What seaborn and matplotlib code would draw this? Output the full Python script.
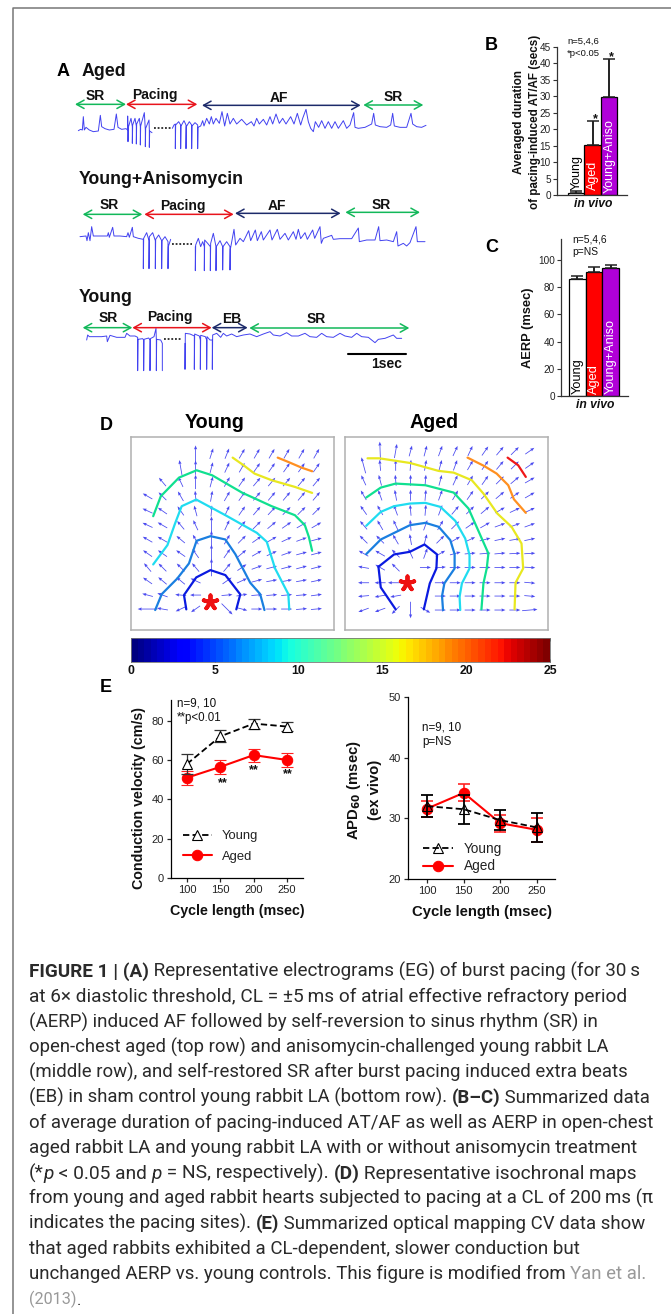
import numpy as np
import pandas as pd
import matplotlib
matplotlib.use("Agg")
import matplotlib.pyplot as plt
import seaborn as sns
from matplotlib.font_manager import FontProperties

# ---------- data ----------
bar_groups = ["Young", "Aged", "Young+Aniso"]
bar_colors = ["#ffffff", "#ff0000", "#b000d8"]
dur_mean = [0.6, 15.2, 29.8]
dur_err = [0.6, 7.2, 11.4]
aerp_mean = [86, 91, 94]
aerp_err = [2, 4, 2.5]

cycle = [100, 150, 200, 250]
cv_young = [58, 72, 78.5, 77]
cv_young_err = [5, 3, 2.5, 2.5]
cv_aged = [51, 56.5, 62.5, 60]
cv_aged_err = [3.5, 3.5, 3.3, 3.4]
apd_young = [32, 31.5, 29.7, 28.5]
apd_young_err = [1.8, 2.4, 1.6, 2.4]
apd_aged = [31.6, 34.2, 29.2, 28.1]
apd_aged_err = [1.3, 1.4, 1.4, 2.0]

colorbar_ticks = [0, 5, 10, 15, 20, 25]

# electrogram traces (panel A units)
aged_a = [(85,242),(92,238),(97,240),(100,200),(103,240),(108,232),(118,240),(130,245),(145,243),(151,196),(155,230),(165,236),(178,240),(192,238),(199,192),(204,232),(215,238),(228,236),(233,240),(233,198),(234,275),(235,232),(243,205),(247,230),(247,280),(248,225),(255,205),(259,228),(259,282),(260,222),(268,205),(271,230),(271,285),(272,228),(283,188),(286,240),(286,290),(287,235),(297,210),(298,240),(298,292),(299,243),(306,248)]
aged_b = [(367,235),(372,225),(376,222),(376,296),(377,225),(386,215),(392,225),(392,296),(393,228),(402,212),(408,225),(408,296),(409,230),(418,215),(425,225),(425,296),(426,228),(435,218),(443,225),(443,296),(444,232),(452,228),(458,212),(462,228),(470,205),(478,222),(484,200),(490,222),(498,205),(508,220),(516,185),(524,228),(532,190),(540,222),(550,205),(560,222),(575,208),(590,225),(604,215),(612,228),(620,205),(628,222),(640,208),(650,225),(660,200),(668,222),(678,192),(688,220),(698,205),(708,222),(722,200),(732,222),(742,190),(752,225),(758,205),(768,178),(775,215),(782,235),(790,245),(796,215),(806,232),(815,212),(825,235),(835,215),(845,235),(855,215),(865,235),(880,212),(890,235),(900,225),(911,188),(915,232),(925,235),(945,232),(965,222),(971,190),(976,225),(990,230),(1010,232),(1022,225),(1028,190),(1033,228),(1050,232),(1070,232),(1083,190),(1088,222),(1100,230),(1115,232),(1128,226)]
aniso_a = [(90,560),(108,558),(111,572),(115,548),(120,572),(125,530),(130,558),(150,558),(172,558),(175,548),(178,562),(188,532),(192,558),(210,558),(230,560),(234,548),(238,562),(247,532),(250,560),(265,565),(280,568),(280,656),(281,565),(290,548),(297,572),(297,656),(298,560),(308,548),(316,572),(316,656),(317,568),(326,555),(335,572),(335,656),(336,572),(345,560),(354,575),(354,656),(355,590),(362,568)]
aniso_b = [(436,590),(436,662),(437,585),(445,565),(452,590),(458,575),(463,590),(463,662),(464,570),(473,580),(481,590),(481,662),(482,580),(490,550),(498,590),(498,662),(499,590),(510,572),(518,590),(518,660),(519,590),(530,575),(540,590),(540,660),(541,598),(552,538),(557,585),(570,565),(580,575),(596,542),(602,572),(616,540),(622,572),(634,545),(640,570),(660,540),(666,570),(682,538),(690,568),(705,550),(715,570),(730,545),(738,568),(745,538),(752,566),(765,548),(772,568),(788,540),(794,565),(810,530),(814,580),(820,565),(845,556),(850,568),(870,566),(905,566),(925,534),(928,575),(950,570),(975,570),(986,530),(990,572),(1010,570),(1030,575),(1040,545),(1044,588),(1060,580),(1070,588),(1080,578),(1098,530),(1102,575),(1125,575)]
young_a = [(110,870),(113,855),(118,860),(135,860),(155,860),(170,858),(172,875),(180,856),(200,862),(225,862),(230,850),(240,858),(255,858),(263,862),(263,962),(264,868),(278,866),(281,870),(281,962),(282,868),(296,864),(300,870),(300,962),(301,866),(312,860),(318,835),(319,870),(319,962),(320,868),(332,870),(337,880),(337,962)]
young_b = [(405,880),(405,958),(406,850),(420,852),(433,858),(433,958),(434,852),(448,858),(451,870),(451,958),(452,856),(466,860),(470,870),(470,958),(471,860),(480,870),(487,870),(487,958),(488,855),(500,850),(512,862),(520,850),(530,858),(545,852),(560,860),(580,855),(600,852),(620,860),(640,852),(660,845),(670,855),(690,858),(710,848),(725,858),(745,858),(765,850),(780,860),(800,862),(815,850),(830,860),(850,862),(870,850),(885,858),(905,862),(920,850),(935,860),(955,862),(975,878),(985,868),(1005,865),(1030,855),(1040,865),(1055,865)]
traces = [aged_a, aged_b, aniso_a, aniso_b, young_a, young_b]
gaps = [(313, 365, 233), (365, 425, 583), (343, 395, 868)]

GREEN, RED, NAVY = "#12b85a", "#e8141c", "#1c2a6a"
phases = [("SR",75,228,163,135,137,GREEN),("Pacing",228,442,163,314,135,RED),("AF",456,932,166,688,145,NAVY),("SR",940,1120,165,1030,142,GREEN),
          ("SR",98,277,493,178,465,GREEN),("Pacing",283,551,493,400,467,RED),("AF",555,872,490,682,468,NAVY),("SR",886,1110,487,995,466,GREEN),
          ("SR",98,247,833,175,803,GREEN),("Pacing",247,485,833,360,802,RED),("EB",485,593,833,546,808,NAVY),("SR",598,1078,834,800,806,GREEN)]

# isochrones (map units)
young_iso = [
 ("#0a1ae0",[(182,538),(175,495),(212,442),(255,420),(300,435),(345,493),(333,538)]),
 ("#1a7fe0",[(88,540),(108,492),(155,445),(190,400),(213,332),(255,318),(300,328),(330,372),(375,458),(405,492),(418,540)]),
 ("#20dcf0",[(82,403),(125,345),(148,280),(168,228),(212,208),(300,255),(395,308),(425,335),(450,415),(490,492),(493,538)]),
 ("#10e090",[(82,258),(105,198),(160,142),(213,120),(260,135),(350,187),(440,228),(510,255),(540,285),(552,320),(562,362)]),
 ("#e8e820",[(322,82),(355,105),(388,130),(440,150),(510,170),(562,188)]),
 ("#ff9020",[(458,82),(490,95),(530,112),(562,123)]),
]
aged_iso = [
 ("#0a1ae0",[(165,538),(120,472),(113,410),(160,373),(208,365),(252,343),(290,373),(288,415),(268,460),(250,538)]),
 ("#1a7fe0",[(76,372),(120,328),(208,285),(255,278),(295,290),(330,330),(343,372),(343,415),(312,460),(305,498),(308,540)]),
 ("#20dcf0",[(76,287),(120,245),(160,228),(208,220),(255,218),(300,230),(345,272),(375,325),(388,375),(388,415),(365,460),(358,500),(360,540)]),
 ("#10e090",[(76,202),(120,172),(165,160),(255,165),(340,187),(385,235),(425,325),(445,370),(440,415),(430,460),(424,538)]),
 ("#e8e820",[(80,84),(115,84),(208,98),(295,122),(340,127),(395,150),(430,190),(472,250),(515,290),(545,340),(550,415),(527,458),(524,538)]),
 ("#ff9020",[(382,82),(432,107),(470,130),(505,165),(522,207),(558,248)]),
 ("#f01818",[(503,82),(535,105),(558,140)]),
]
# arrow directions in degrees (blank = no arrow)
N = np.nan
young_cols = [65,110,165,210,258,305,350,395,440,485,530,575]
young_rows = [70,112,155,198,242,285,328,370,412,452,495,537]
young_ang = [
 [N,N,N,90,72,68,60,60,60,60,60,60],
 [N,N,100,90,75,65,60,55,55,55,55,55],
 [N,130,115,90,75,60,55,50,50,50,50,50],
 [150,135,120,95,80,60,55,50,50,50,50,50],
 [155,145,125,105,85,65,55,50,47,45,45,45],
 [155,150,130,115,90,65,50,45,40,35,30,30],
 [150,150,140,120,90,60,45,35,30,25,20,15],
 [145,145,145,125,90,55,40,30,25,20,15,15],
 [130,135,135,130,90,50,35,20,15,15,15,15],
 [145,140,140,155,N,35,25,15,10,10,10,12],
 [165,160,175,180,N,5,10,5,5,5,5,8],
 [180,170,205,215,N,315,345,0,0,0,5,5],
]
young_long = {(0,3):1.5,(1,2):1.4,(1,3):1.3,(2,3):1.3,(5,4):1.6,(6,4):1.6,(7,4):1.6,(8,4):1.6,(11,0):1.8,(11,5):1.4}
aged_cols = [68,118,165,210,255,300,345,390,435,480,525,570]
aged_rows = [62,105,150,195,240,285,328,370,412,458,498,540]
aged_ang = [
 [N,92,80,75,75,70,65,65,55,50,45,35],
 [105,95,90,85,80,75,70,60,55,50,45,35],
 [115,105,95,90,85,75,65,60,55,45,40,30],
 [120,110,100,90,85,70,60,55,45,40,35,30],
 [125,120,110,95,85,70,50,45,40,30,25,25],
 [130,120,115,95,70,60,45,35,30,20,20,20],
 [135,135,120,100,75,45,30,25,15,12,10,12],
 [150,150,135,115,70,30,15,5,5,5,3,3],
 [170,150,135,N,0,5,0,0,0,0,0,357],
 [180,180,180,N,N,0,0,0,0,0,0,355],
 [185,190,190,N,N,0,0,0,0,0,0,355],
 [200,200,225,270,330,0,0,0,0,0,0,5],
]
aged_long = {(0,1):1.7,(0,2):1.3,(1,0):1.5,(9,2):1.4,(11,3):1.5,(11,11):1.4}

caption_lines = [
 (639,[("FIGURE 1 | (A)","b"),(" Representative electrograms (EG) of burst pacing (for 30\u2009s","r")]),
 (627,[("at 6\u00d7 diastolic threshold, CL = \u00b15\u2009ms of atrial effective refractory period","r")]),
 (596,[("(AERP) induced AF followed by self-reversion to sinus rhythm (SR) in","r")]),
 (608,[("open-chest aged (top row) and anisomycin-challenged young rabbit LA","r")]),
 (628,[("(middle row), and self-restored SR after burst pacing induced extra beats","r")]),
 (650,[("(EB) in sham control young rabbit LA (bottom row). ","r"),("(B\u2013C)","b"),(" Summarized data","r")]),
 (650,[("of average duration of pacing-induced AT/AF as well as AERP in open-chest","r")]),
 (637,[("aged rabbit LA and young rabbit LA with or without anisomycin treatment","r")]),
 (635,[("(*","r"),("p","i"),(" < 0.05 and ","r"),("p","i"),(" = NS, respectively). ","r"),("(D)","b"),(" Representative isochronal maps","r")]),
 (653,[("from young and aged rabbit hearts subjected to pacing at a CL of 200\u2009ms (\u03c0","r")]),
 (643,[("indicates the pacing sites). ","r"),("(E)","b"),(" Summarized optical mapping CV data show","r")]),
 (576,[("that aged rabbits exhibited a CL-dependent, slower conduction but","r")]),
 (646,[("unchanged AERP vs. young controls. This figure is modified from ","r"),("Yan et al.","g")]),
 (81,[("(2013)","g"),(".","r")]),
]

# ---------- figure ----------
sns.set_theme(style="ticks")
plt.rcParams["font.family"] = ["Liberation Sans", "DejaVu Sans"]
W, H = 671, 1314
fig = plt.figure(figsize=(W/100, H/100), dpi=100, facecolor="white")

def px_ax(l, t, r, b, **kw):
    return fig.add_axes([l/W, 1-b/H, (r-l)/W, (b-t)/H], **kw)

page = px_ax(0, 0, W, H)
page.set_xlim(0, W); page.set_ylim(H, 0); page.axis("off"); page.set_zorder(10)
def T(x, y, s, size=7.2, weight="normal", ha="left", va="center", color="#111111", **kw):
    return page.text(x, y, s, fontsize=size, fontweight=weight, ha=ha, va=va, color=color, **kw)

page.plot([13, 13, W], [H, 8, 8], color="#777777", lw=1.1)

for lab, x, y in [("A",57,71),("B",485,45),("C",485,248),("D",100,426),("E",100,688)]:
    T(x, y, lab, size=13, weight="bold", color="black")

# --- panel A
axA = px_ax(50, 50, 450, 390)
axA.set_xlim(0, 1200); axA.set_ylim(1020, 0); axA.axis("off"); axA.patch.set_alpha(0)
for tr in traces:
    xs, ys = zip(*tr)
    sns.lineplot(x=list(xs), y=list(ys), ax=axA, color="#4242f0", lw=0.7, sort=False, estimator=None)
for x0, x1, y in gaps:
    axA.plot([x0, x1], [y, y], color="black", lw=1.1, ls=(0, (1.2, 1.2)))
for name, x0, x1, y, tx, ty, c in phases:
    axA.annotate("", xy=(x1, y), xytext=(x0, y),
                 arrowprops=dict(arrowstyle="<->,head_length=0.45,head_width=0.25", color=c, lw=1.1, shrinkA=0, shrinkB=0))
    axA.text(tx, ty, name, fontsize=10, fontweight="bold", ha="center", va="center", color="#111111")
axA.plot([893, 1067], [913, 913], color="black", lw=1.5)
axA.text(1011, 943, "1sec", fontsize=10, fontweight="bold", ha="center", va="center", color="#111111")
T(82, 72, "Aged", size=12.8, weight="bold")
T(79, 180, "Young+Anisomycin", size=12.8, weight="bold")
T(79, 298, "Young", size=12.8, weight="bold")

# --- panels B, C
def bars(ax, means, errs, xlim, ylim, yticks):
    df = pd.DataFrame({"group": bar_groups, "value": means})
    sns.barplot(data=df, x="group", y="value", hue="group", palette=bar_colors, width=1.0,
                edgecolor="black", linewidth=0.9, legend=False, ax=ax, saturation=1, dodge=False)
    ax.errorbar(range(3), means, yerr=[[0, 0, 0], errs], fmt="none", ecolor="#222222", elinewidth=1.4, capsize=4, capthick=1.1)
    ax.set_xlim(*xlim); ax.set_ylim(*ylim); ax.set_yticks(yticks)
    ax.set_xticks([]); ax.set_xlabel(""); ax.set_ylabel("")
    ax.tick_params(axis="y", labelsize=7.2, length=3, width=0.8, pad=1.5, labelcolor="#222222", color="#333333")
    sns.despine(ax=ax)
    for s in ("left", "bottom"):
        ax.spines[s].set_linewidth(0.9); ax.spines[s].set_color("#333333")
    ax.patch.set_alpha(0)

axB = px_ax(557, 47, 627, 195)
bars(axB, dur_mean, dur_err, (-1.17, 3.1), (0, 45), range(0, 50, 5))
axC = px_ax(561, 239, 628, 396)
bars(axC, aerp_mean, aerp_err, (-0.98, 3.04), (0, 115.4), range(0, 120, 20))

for x, lab, c, yb in [(576.5,"Young","black",190),(593,"Aged","white",190),(609.5,"Young+Aniso","white",193)]:
    T(x, yb, lab, size=9, ha="center", va="bottom", rotation=90, color=c)
for x, lab, c in [(577.5,"Young","black"),(594,"Aged","white"),(610.5,"Young+Aniso","white")]:
    T(x, 394, lab, size=9.2, ha="center", va="bottom", rotation=90, color=c)
T(519, 122, "Averaged duration", size=8.5, weight="bold", ha="center", rotation=90)
T(535, 122, "of pacing-induced AT/AF (secs)", size=8.4, weight="bold", ha="center", rotation=90)
T(528, 328, "AERP (msec)", size=9.3, weight="bold", ha="center", rotation=90)
T(593, 204, "in vivo", size=8.7, weight="bold", ha="center", style="italic")
T(595, 405, "in vivo", size=8.7, weight="bold", ha="center", style="italic")
T(567, 41, "n=5,4,6", size=6.8); T(567, 53, "*p<0.05", size=6.8)
T(572, 239, "n=5,4,6", size=7.4); T(572, 252, "p=NS", size=7.4)
T(595, 119, "*", size=9, weight="bold", ha="center"); T(611, 57, "*", size=9, weight="bold", ha="center")

# --- panel D
def iso_map(box, iso, cols, rows, ang, longer, star, xlim):
    ax = px_ax(*box)
    ax.set_xlim(*xlim); ax.set_ylim(600, 20)
    ax.set_xticks([]); ax.set_yticks([])
    for s in ax.spines.values():
        s.set_color("#b0b0b0"); s.set_linewidth(1.1)
    A = np.radians(np.array(ang, dtype=float))
    M = np.full(A.shape, 11.0)
    for (r, c), k in longer.items():
        M[r, c] *= k
    X, Y = np.meshgrid(cols, rows)
    ok = ~np.isnan(A)
    ax.quiver(X[ok], Y[ok], (M*np.cos(A))[ok], (M*np.sin(A))[ok], angles="uv", scale_units="dots", scale=1,
              units="dots", width=0.8, headwidth=4, headlength=5, headaxislength=4.5, pivot="mid", color="#4a4af0", zorder=2)
    for c, pts in iso:
        xs, ys = zip(*pts)
        sns.lineplot(x=list(xs), y=list(ys), ax=ax, color=c, lw=1.6, sort=False, estimator=None, zorder=3)
    ax.scatter(*star, marker=(5, 2, 0), s=105, color="#ee1111", linewidths=2.8, zorder=4)
    ax.set_xlabel(""); ax.set_ylabel("")
    return ax

iso_map((131, 437, 334, 630), young_iso, young_cols, young_rows, young_ang, young_long, (253, 516), (15, 628))
iso_map((345, 437, 548, 630), aged_iso, aged_cols, aged_rows, aged_ang, aged_long, (200, 458), (12, 625))
T(215, 423, "Young", size=14.2, weight="bold", ha="center", color="black")
T(434, 423, "Aged", size=14.2, weight="bold", ha="center", color="black")

axBar = px_ax(131, 638, 550, 662)
levels = np.linspace(0, 25, 64).reshape(1, -1)
sns.heatmap(levels, cmap="jet", vmin=0, vmax=25, cbar=False, ax=axBar, xticklabels=False, yticklabels=False)
axBar.set_xticks([v/25*64 for v in colorbar_ticks])
axBar.set_xticklabels(colorbar_ticks, fontsize=8.8, fontweight="bold", color="#111111")
axBar.set_yticks([])
axBar.tick_params(axis="x", length=2, width=0.7, direction="in", pad=2, top=True, bottom=True, color="#111111")
for s in axBar.spines.values():
    s.set_visible(True); s.set_color("#777777"); s.set_linewidth(0.6)

# --- panel E
def line_panel(ax, young, yerr, aged, aerr, xlim, ylim, yticks, lw_err, young_on_top):
    df = pd.DataFrame({"cl": cycle * 2, "v": young + aged, "g": ["Young"]*4 + ["Aged"]*4})
    ya = dict(x=cycle, y=young, yerr=yerr, fmt="none", ecolor="black" if young_on_top else "#333333", elinewidth=lw_err, capsize=4.5, capthick=lw_err)
    ra = dict(x=cycle, y=aged, yerr=aerr, fmt="none", ecolor="#ff2020", elinewidth=lw_err*0.9, capsize=4.5, capthick=lw_err*0.9)
    ax.errorbar(**ra, zorder=2)
    sns.lineplot(data=df[df.g == "Aged"], x="cl", y="v", ax=ax, color="#ff0000", lw=1.5, marker="o", ms=7.5, mec="#ff0000", label="Aged", zorder=3, errorbar=None)
    ax.errorbar(**ya, zorder=4)
    sns.lineplot(data=df[df.g == "Young"], x="cl", y="v", ax=ax, color="black", lw=1.3, ls=(0, (3.5, 1.8)), marker="^", ms=7.5,
                 mfc="white" if not young_on_top else "none", mec="black", mew=0.8, label="Young", zorder=5, errorbar=None)
    ax.set_xlim(*xlim); ax.set_ylim(*ylim)
    ax.set_xticks(cycle); ax.set_yticks(yticks)
    ax.set_xlabel(""); ax.set_ylabel("")
    ax.tick_params(labelsize=8, length=3, width=0.9, pad=2, labelcolor="#222222")
    sns.despine(ax=ax)
    for s in ("left", "bottom"):
        ax.spines[s].set_linewidth(0.9); ax.spines[s].set_color("black")
    ax.patch.set_alpha(0)

axE1 = px_ax(171, 700, 303, 878)
line_panel(axE1, cv_young, cv_young_err, cv_aged, cv_aged_err, (76, 274), (0, 90.5), range(0, 100, 20), 0.9, False)
axE2 = px_ax(408, 697, 555, 879)
line_panel(axE2, apd_young, apd_young_err, apd_aged, apd_aged_err, (74, 274.6), (20, 50), range(20, 60, 10), 1.3, True)

def legend_px(ax, left, top, fs, sp):
    h, l = ax.get_legend_handles_labels()
    order = [l.index("Young"), l.index("Aged")]
    x0, y0 = (left)/W, 1-(top)/H
    ax.legend([h[i] for i in order], [l[i] for i in order], loc="upper left", bbox_to_anchor=(x0, y0),
              bbox_transform=fig.transFigure, frameon=False, fontsize=fs, handlelength=2.2, handletextpad=0.8,
              labelspacing=sp, borderpad=0, borderaxespad=0, labelcolor="#222222")
legend_px(axE1, 183, 830, 9.4, 0.65)
legend_px(axE2, 423, 842, 9.8, 0.25)

T(223, 783, "**", size=9, weight="bold", ha="center")
T(254, 770, "**", size=9, weight="bold", ha="center")
T(288, 774, "**", size=9, weight="bold", ha="center")
T(177, 703, "n=9, 10", size=8.4); T(177, 718, "**p<0.01", size=8.3)
T(422, 727, "n=9, 10", size=8.4); T(422, 742, "p=NS", size=8.4)
T(139, 798, "Conduction velocity (cm/s)", size=10.3, weight="bold", ha="center", rotation=90)
T(237, 911, "Cycle length (msec)", size=10.3, weight="bold", ha="center")
T(482, 912, "Cycle length (msec)", size=10.7, weight="bold", ha="center")
T(354, 790, r"APD$_{\mathbf{60}}$ (msec)", size=10.7, weight="bold", ha="center", rotation=90,
  math_fontfamily="dejavusans")
T(375, 790, "(ex vivo)", size=10.7, weight="bold", ha="center", rotation=90)

# --- caption
cap_fam = ["Roboto", "DejaVu Sans"]
styles = {"r": dict(weight="normal", style="normal"), "b": dict(weight="bold", style="normal"),
          "i": dict(weight="normal", style="italic"), "g": dict(weight="normal", style="normal")}
renderer = fig.canvas.get_renderer()
def adv(s, key, size):
    fp = FontProperties(family=cap_fam, size=size, **styles[key])
    a = renderer.get_text_width_height_descent(s + "|", fp, False)[0]
    b = renderer.get_text_width_height_descent("|", fp, False)[0]
    return a - b

for i, (right, runs) in enumerate(caption_lines):
    y = 977 + 25.2 * i
    x0 = 29
    base = 12.0
    total = sum(adv(s, k, base) for s, k in runs)
    size = base * (right - x0) / total
    x = x0
    for s, k in runs:
        page.text(x, y, s, fontsize=size, family=cap_fam, va="baseline", ha="left",
                  color="#999999" if k == "g" else "#2a2a2a", **styles[k])
        x += adv(s, k, size)

fig.savefig("out.png", dpi=100, facecolor="white")
